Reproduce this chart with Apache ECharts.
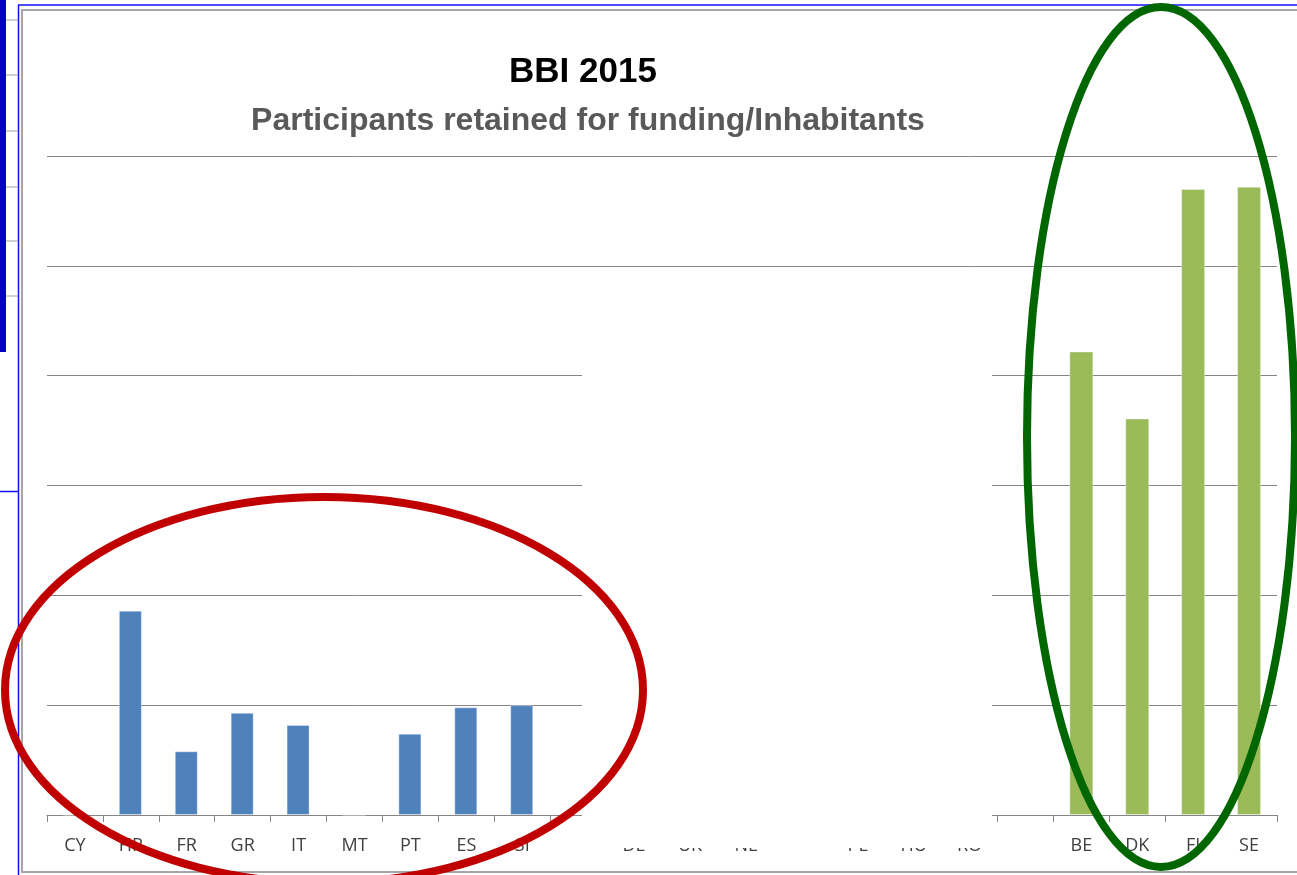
<!DOCTYPE html>
<html>
<head>
<meta charset="utf-8">
<style>
html,body{margin:0;padding:0;background:#fff;}
#chart{width:1297px;height:875px;}
</style>
<script src="https://cdn.jsdelivr.net/npm/echarts@6/dist/echarts.min.js"></script>
</head>
<body>
<div id="chart"></div>
<script>
// ---- data ----
var categories = ['CY','HR','FR','GR','IT','MT','PT','ES','SI','','DE','UK','NL','','PL','HU','RO','','BE','DK','FI','SE'];
var southValues = [0, 1.86, 0.58, 0.93, 0.82, 0, 0.74, 0.98, 1.00, null, null, null, null, null, null, null, null, null, null, null, null, null];
var northValues = [null, null, null, null, null, null, null, null, null, null, null, null, null, null, null, null, null, null, 4.22, 3.61, 5.70, 5.72];
var yTicks = [0, 1, 2, 3, 4, 5, 6];
var titleText = 'BBI 2015';
var subtitleText = 'Participants retained for funding/Inhabitants';

var chart = echarts.init(document.getElementById('chart'), null, {renderer: 'canvas'});

var gray = '#858585';
var option = {
  animation: false,
  backgroundColor: '#ffffff',
  title: [
    {text: titleText, left: 578, top: 50, textAlign: 'center',
     textStyle: {fontFamily: 'Liberation Sans', fontWeight: 'bold', fontSize: 35, color: '#000000'}},
    {text: subtitleText, left: 583, top: 100, textAlign: 'center',
     textStyle: {fontFamily: 'Liberation Sans', fontWeight: 'bold', fontSize: 32, color: '#595959'}}
  ],
  grid: {left: 47, right: 20, top: 156, bottom: 60, containLabel: false},
  xAxis: {
    type: 'category',
    data: categories,
    axisLine: {lineStyle: {color: gray, width: 1}},
    axisTick: {show: true, length: 7, lineStyle: {color: gray}},
    axisLabel: {interval: 0, margin: 22, fontFamily: 'Open Sans', fontSize: 18, color: '#404040'}
  },
  yAxis: {
    type: 'value',
    min: yTicks[0],
    max: yTicks[yTicks.length - 1],
    interval: 1,
    axisLabel: {show: false},
    axisLine: {show: false},
    axisTick: {show: false},
    splitLine: {lineStyle: {color: gray, width: 1}}
  },
  series: [
    {type: 'bar', name: 'south', data: southValues, barWidth: 23, barGap: '-100%',
     itemStyle: {color: '#4F81BD', borderColor: 'rgba(255,255,255,0.35)', borderWidth: 1}},
    {type: 'bar', name: 'north', data: northValues, barWidth: 24, barGap: '-100%',
     itemStyle: {color: '#9BBB59', borderColor: 'rgba(255,255,255,0.35)', borderWidth: 1}}
  ],
  graphic: [
    // slide frame decorations
    {type: 'rect', z: 80, shape: {x: 22, y: 10, width: 1300, height: 862},
     style: {fill: null, stroke: '#a6a6a6', lineWidth: 2}},
    {type: 'line', z: 81, shape: {x1: 18.5, y1: 5, x2: 18.5, y2: 875}, style: {stroke: '#1010ff', lineWidth: 1.5}},
    {type: 'line', z: 81, shape: {x1: 18, y1: 5, x2: 1297, y2: 5}, style: {stroke: '#1010ff', lineWidth: 1.5}},
    {type: 'rect', z: 81, shape: {x: 0, y: 0, width: 6, height: 352}, style: {fill: '#0000c8'}},
    {type: 'line', z: 81, shape: {x1: 0, y1: 491.5, x2: 19, y2: 491.5}, style: {stroke: '#1010ff', lineWidth: 1.5}},
    {type: 'line', z: 81, shape: {x1: 6, y1: 20, x2: 18, y2: 20}, style: {stroke: '#a0a0a0', lineWidth: 1}},
    {type: 'line', z: 81, shape: {x1: 6, y1: 75, x2: 18, y2: 75}, style: {stroke: '#a0a0a0', lineWidth: 1}},
    {type: 'line', z: 81, shape: {x1: 6, y1: 131, x2: 18, y2: 131}, style: {stroke: '#a0a0a0', lineWidth: 1}},
    {type: 'line', z: 81, shape: {x1: 6, y1: 187, x2: 18, y2: 187}, style: {stroke: '#a0a0a0', lineWidth: 1}},
    {type: 'line', z: 81, shape: {x1: 6, y1: 241, x2: 18, y2: 241}, style: {stroke: '#a0a0a0', lineWidth: 1}},
    {type: 'line', z: 81, shape: {x1: 6, y1: 296, x2: 18, y2: 296}, style: {stroke: '#a0a0a0', lineWidth: 1}},
    // white box covering the middle of the chart
    {type: 'rect', z: 90, shape: {x: 582, y: 369, width: 410, height: 479}, style: {fill: '#ffffff'}},
    // highlight ellipses
    {type: 'ellipse', z: 95, shape: {cx: 324, cy: 690, rx: 319, ry: 193},
     style: {fill: null, stroke: '#C00000', lineWidth: 8}},
    {type: 'ellipse', z: 95, shape: {cx: 1161, cy: 437, rx: 134, ry: 430},
     style: {fill: null, stroke: '#006600', lineWidth: 8}}
  ]
};
chart.setOption(option);
</script>
</body>
</html>
